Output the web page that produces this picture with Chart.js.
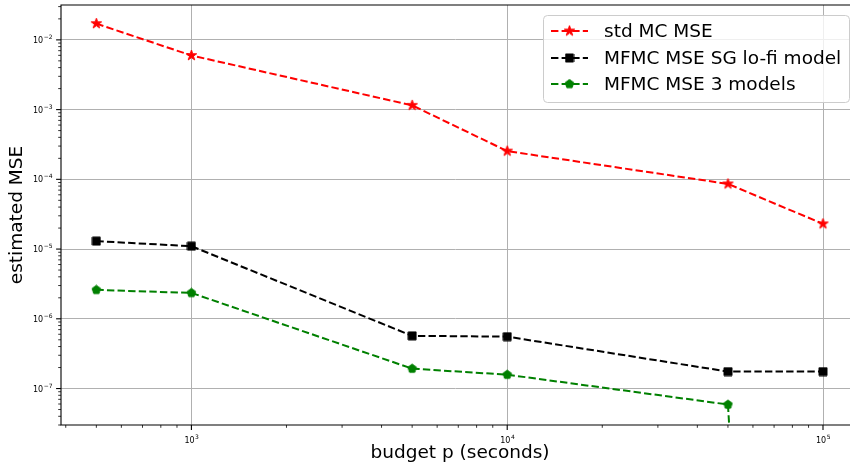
<!DOCTYPE html>
<html>
<head>
<meta charset="utf-8">
<title>MSE vs budget</title>
<script src="https://cdn.jsdelivr.net/npm/chart.js@4.4.0/dist/chart.umd.min.js"></script>
<style>
  html, body { margin: 0; padding: 0; background: #fff; overflow: hidden; }
  #myChart { display: block; width: 850px; height: 468px; }
</style>
</head>
<body>
<canvas id="myChart" width="850" height="468"></canvas>
<script>
// data
const budgets = [500, 1000, 5000, 10000, 50000, 100000];
const stdMcMse = [1.71e-2, 5.97e-3, 1.15e-3, 2.54e-4, 8.6e-5, 2.3e-5];
const mfmcSgMse = [1.30e-5, 1.10e-5, 5.7e-7, 5.55e-7, 1.75e-7, 1.75e-7];
// last value is ~0, the line just drops off the bottom of the log axis
const mfmc3Mse = [2.6e-6, 2.35e-6, 1.93e-7, 1.58e-7, 5.9e-8, 1e-30];
const seriesNames = ['std MC MSE', 'MFMC MSE SG lo-fi model', 'MFMC MSE 3 models'];
const xTickExps = [3, 4, 5];
const yTickExps = [-7, -6, -5, -4, -3, -2];

// axis limits (log10); the original plot is cut off on the right, so the
// right side stops short of the real axis end
const xLim = [2.587, 5.0855];
const yLim = [-7.5, -1.5];

const FONT = "'DejaVu Sans', sans-serif";

function isPow10(v) {
  const l = Math.log10(v);
  return Math.abs(l - Math.round(l)) < 1e-6;
}

// marker images
function makeMarker(color, size, path) {
  const c = document.createElement('canvas');
  c.width = size; c.height = size;
  const g = c.getContext('2d');
  g.translate(size / 2, size / 2);
  g.fillStyle = color;
  g.strokeStyle = color;
  g.lineWidth = 1;
  g.beginPath();
  path(g, size / 2 - 1);
  g.closePath();
  g.fill();
  g.stroke();
  return c;
}
function starPath(g, r) {
  for (let i = 0; i < 10; i++) {
    const a = -Math.PI / 2 + i * Math.PI / 5;
    const rr = i % 2 ? r * 0.382 : r;
    g.lineTo(rr * Math.cos(a), rr * Math.sin(a));
  }
}
function pentaPath(g, r) {
  for (let i = 0; i < 5; i++) {
    const a = -Math.PI / 2 + i * 2 * Math.PI / 5;
    g.lineTo(r * Math.cos(a), r * Math.sin(a));
  }
}
function squarePath(g, r) {
  g.rect(-r, -r, 2 * r, 2 * r);
}

const colors = ['#ff0000', '#000000', '#008000'];
const markers = [
  makeMarker(colors[0], 13, starPath),
  makeMarker(colors[1], 10, squarePath),
  makeMarker(colors[2], 11, pentaPath)
];
const DASH = [7.4, 3.2];

function makeSet(i, values) {
  return {
    label: seriesNames[i],
    data: budgets.map((b, k) => ({ x: b, y: values[k] })),
    borderColor: colors[i],
    backgroundColor: colors[i],
    borderWidth: 2,
    borderDash: DASH,
    pointStyle: markers[i],
    pointRadius: 5,
    fill: false,
    tension: 0
  };
}

// draws "10" with a superscript exponent
function drawPow(ctx, exp, x, y, align) {
  const base = '10';
  const sup = (exp < 0 ? '\u2212' : '') + Math.abs(exp);
  ctx.font = '8px ' + FONT;
  const wb = ctx.measureText(base).width;
  ctx.font = '6px ' + FONT;
  const ws = ctx.measureText(sup).width;
  let x0 = x;
  if (align === 'center') x0 = x - (wb + ws) / 2;
  if (align === 'right') x0 = x - (wb + ws);
  ctx.textAlign = 'left';
  ctx.textBaseline = 'alphabetic';
  ctx.font = '8px ' + FONT;
  ctx.fillText(base, x0, y);
  ctx.font = '6px ' + FONT;
  ctx.fillText(sup, x0 + wb + 0.5, y - 4);
}

const axesDecor = {
  id: 'axesDecor',
  afterDraw(chart) {
    const { ctx, chartArea: a, scales: { x, y } } = chart;
    ctx.save();
    ctx.strokeStyle = '#000';
    ctx.fillStyle = '#000';

    // tick marks
    for (let e = 2; e <= 5; e++) {
      for (let m = 1; m < 10; m++) {
        const px = x.getPixelForValue(m * Math.pow(10, e));
        if (px < a.left - 0.5 || px > a.right + 0.5) continue;
        ctx.lineWidth = m === 1 ? 1.1 : 0.8;
        ctx.beginPath();
        ctx.moveTo(px, a.bottom);
        ctx.lineTo(px, a.bottom + (m === 1 ? 4.9 : 2.8));
        ctx.stroke();
      }
    }
    for (let e = -8; e <= -1; e++) {
      for (let m = 1; m < 10; m++) {
        const py = y.getPixelForValue(m * Math.pow(10, e));
        if (py < a.top - 0.5 || py > a.bottom + 0.5) continue;
        ctx.lineWidth = m === 1 ? 1.1 : 0.8;
        ctx.beginPath();
        ctx.moveTo(a.left, py);
        ctx.lineTo(a.left - (m === 1 ? 4.9 : 2.8), py);
        ctx.stroke();
      }
    }

    // tick labels
    xTickExps.forEach(e => {
      drawPow(ctx, e, x.getPixelForValue(Math.pow(10, e)), a.bottom + 18, 'center');
    });
    yTickExps.forEach(e => {
      drawPow(ctx, e, a.left - 9, y.getPixelForValue(Math.pow(10, e)) + 3, 'right');
    });

    // x axis label, centred on the full (uncropped) axes width
    ctx.font = '18.5px ' + FONT;
    ctx.textAlign = 'center';
    ctx.textBaseline = 'middle';
    ctx.fillText('budget p (seconds)', 460, 453);

    // frame: left, top, bottom (right spine is off the picture)
    ctx.lineWidth = 1.1;
    ctx.beginPath();
    ctx.moveTo(a.right + 2, a.top);
    ctx.lineTo(a.left, a.top);
    ctx.lineTo(a.left, a.bottom);
    ctx.lineTo(a.right + 2, a.bottom);
    ctx.stroke();

    // legend
    const box = { x: 543, y: 15, w: 306, h: 87 };
    ctx.beginPath();
    ctx.roundRect(box.x + 0.5, box.y + 0.5, box.w, box.h, 4);
    ctx.fillStyle = 'rgba(255,255,255,0.8)';
    ctx.fill();
    ctx.strokeStyle = '#cccccc';
    ctx.lineWidth = 1;
    ctx.stroke();

    const rowY = [31, 58, 84];
    ctx.font = '18.5px ' + FONT;
    ctx.textBaseline = 'middle';
    ctx.textAlign = 'left';
    for (let i = 0; i < 3; i++) {
      ctx.strokeStyle = colors[i];
      ctx.lineWidth = 2;
      ctx.setLineDash(DASH);
      ctx.beginPath();
      ctx.moveTo(551, rowY[i]);
      ctx.lineTo(588, rowY[i]);
      ctx.stroke();
      ctx.setLineDash([]);
      const mk = markers[i];
      ctx.drawImage(mk, 569.5 - mk.width / 2, rowY[i] - mk.height / 2);
      ctx.fillStyle = '#000';
      ctx.fillText(seriesNames[i], 604, rowY[i] + 1);
    }
    ctx.restore();
  }
};

const gridColor = (c) => (c.tick && isPow10(c.tick.value)) ? '#b0b0b0' : 'rgba(0,0,0,0)';

const ctx = document.getElementById('myChart').getContext('2d');
const myChart = new Chart(ctx, {
  type: 'line',
  data: {
    datasets: [
      makeSet(0, stdMcMse),
      makeSet(1, mfmcSgMse),
      makeSet(2, mfmc3Mse)
    ]
  },
  options: {
    responsive: false,
    animation: false,
    layout: { autoPadding: false, padding: { top: 5, right: 0, left: 0, bottom: 0 } },
    plugins: {
      legend: { display: false },
      tooltip: { enabled: false }
    },
    scales: {
      x: {
        type: 'logarithmic',
        min: Math.pow(10, xLim[0]),
        max: Math.pow(10, xLim[1]),
        afterFit(s) { s.height = 43; },
        ticks: { display: false },
        border: { display: false },
        grid: { color: gridColor, lineWidth: 1, drawTicks: false },
        title: { display: false }
      },
      y: {
        type: 'logarithmic',
        min: Math.pow(10, yLim[0]),
        max: Math.pow(10, yLim[1]),
        afterFit(s) { s.width = 61; },
        ticks: { display: false },
        border: { display: false },
        grid: { color: gridColor, lineWidth: 1, drawTicks: false },
        title: {
          display: true,
          text: 'estimated MSE',
          color: '#000',
          font: { family: FONT, size: 18.5 },
          padding: { top: 6, bottom: 4 }
        }
      }
    }
  },
  plugins: [axesDecor]
});
</script>
</body>
</html>
